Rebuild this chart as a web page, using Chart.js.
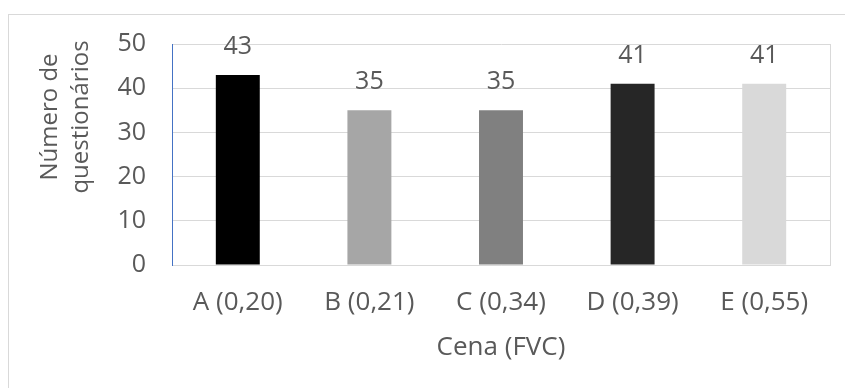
<!DOCTYPE html>
<html>
<head>
<meta charset="utf-8">
<script src="https://cdn.jsdelivr.net/npm/chart.js@4/dist/chart.umd.min.js"></script>
<style>
  html, body { margin: 0; padding: 0; background: #ffffff; }
  #wrap { width: 845px; height: 388px; position: relative; }
</style>
</head>
<body>
<div id="wrap"><canvas id="c" width="845" height="388"></canvas></div>
<script>
// Questionnaires per scene (FVC value in parentheses)
const categories = ['A (0,20)', 'B (0,21)', 'C (0,34)', 'D (0,39)', 'E (0,55)'];
const values = [43, 35, 35, 41, 41];
const barColors = ['#000000', '#a6a6a6', '#808080', '#262626', '#d9d9d9'];
const yTicks = [0, 10, 20, 30, 40, 50];
const yTitleLines = ['Número de', 'questionários'];
const xTitle = 'Cena (FVC)';

const FONT = '"Open Sans", "Noto Sans", sans-serif';
const TEXT = '#595959';

const decorations = {
  id: 'decorations',
  beforeDraw(chart) {
    const ctx = chart.ctx;
    ctx.save();
    ctx.strokeStyle = '#d9d9d9';
    ctx.lineWidth = 1;
    ctx.strokeRect(8.5, 14.5, 900, 500);
    ctx.restore();
  },
  afterDraw(chart) {
    const ctx = chart.ctx;
    const area = chart.chartArea;
    ctx.save();
    // right edge of the plot frame
    ctx.strokeStyle = '#d9d9d9';
    ctx.lineWidth = 1;
    ctx.beginPath();
    ctx.moveTo(Math.round(area.right) + 0.5, area.top);
    ctx.lineTo(Math.round(area.right) + 0.5, area.bottom);
    ctx.stroke();

    ctx.fillStyle = TEXT;
    ctx.font = '25px ' + FONT;
    // value labels above the bars
    const meta = chart.getDatasetMeta(0);
    ctx.textAlign = 'center';
    ctx.textBaseline = 'middle';
    meta.data.forEach((bar, i) => {
      ctx.fillText(String(values[i]), bar.x, bar.y - 28);
    });
    // axis titles
    ctx.textBaseline = 'alphabetic';
    ctx.font = '26px ' + FONT;
    ctx.fillText(xTitle, (area.left + area.right) / 2, 355);
    ctx.font = '24px ' + FONT;
    const baselines = [57, 88];
    yTitleLines.forEach((line, i) => {
      ctx.save();
      ctx.translate(baselines[i], 117);
      ctx.rotate(-Math.PI / 2);
      ctx.fillText(line, 0, 0);
      ctx.restore();
    });
    ctx.restore();
  }
};

new Chart(document.getElementById('c'), {
  type: 'bar',
  data: {
    labels: categories,
    datasets: [{
      data: values,
      backgroundColor: barColors,
      borderWidth: 0,
      categoryPercentage: 1,
      barPercentage: 0.334
    }]
  },
  options: {
    responsive: false,
    animation: false,
    events: [],
    layout: { padding: { left: 0, top: 44, right: 15, bottom: 0 } },
    plugins: { legend: { display: false }, tooltip: { enabled: false } },
    scales: {
      x: {
        grid: { display: false, drawTicks: false },
        border: { display: true, color: '#d9d9d9', width: 1 },
        ticks: { color: TEXT, font: { family: FONT, size: 26 }, padding: 22, maxRotation: 0 },
        afterFit(scale) { scale.height = 123; }
      },
      y: {
        min: 0,
        max: 50,
        afterBuildTicks(scale) { scale.ticks = yTicks.map(v => ({ value: v })); },
        grid: { color: '#d9d9d9', lineWidth: 1, drawTicks: false },
        border: { display: true, color: '#4472c4', width: 1 },
        ticks: { color: TEXT, font: { family: FONT, size: 25 }, padding: 26 },
        afterFit(scale) { scale.width = 172; }
      }
    }
  },
  plugins: [decorations]
});
</script>
</body>
</html>
